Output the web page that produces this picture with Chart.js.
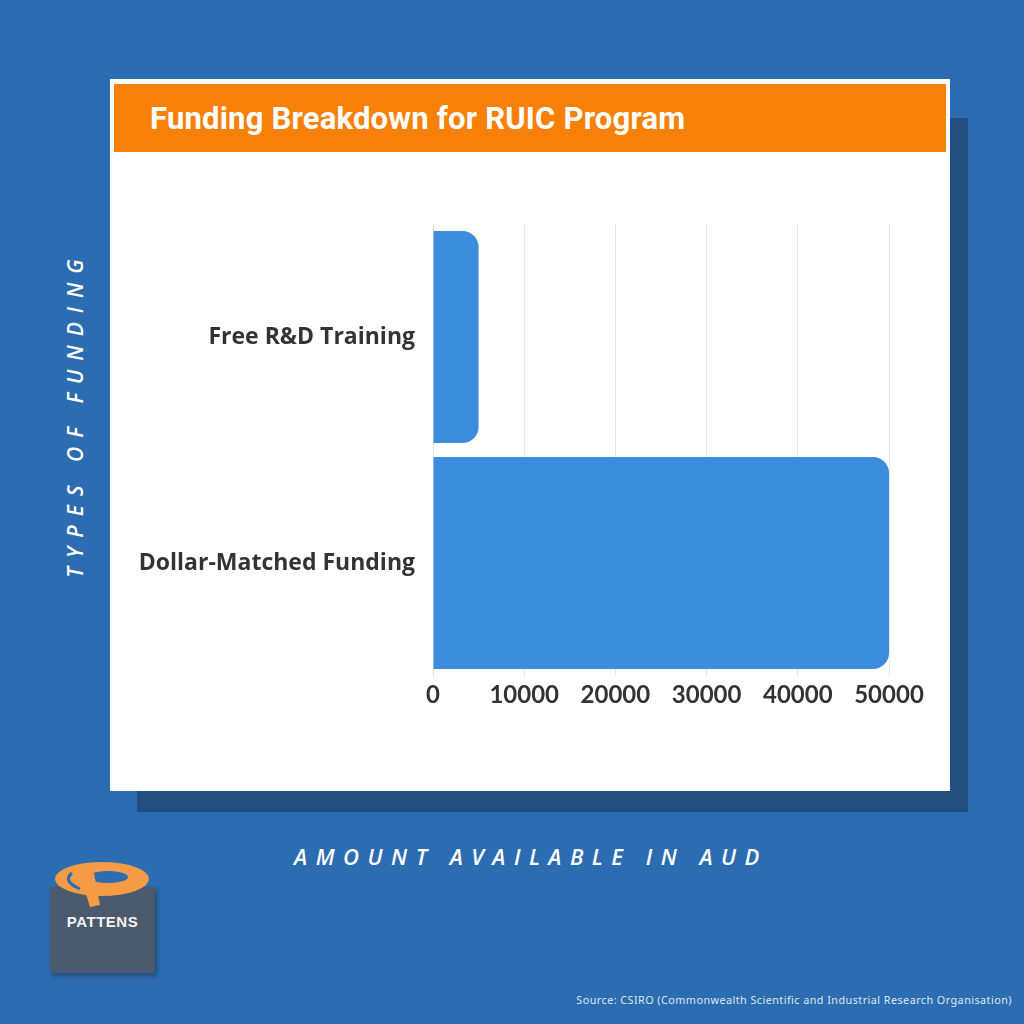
<!DOCTYPE html>
<html>
<head>
<meta charset="utf-8">
<script src="https://cdn.jsdelivr.net/npm/chart.js@4"></script>
<style>
  html, body { margin: 0; padding: 0; }
  body { width: 1024px; height: 1024px; background: #2c6cb0; position: relative; overflow: hidden; font-family: "Lato", sans-serif; }
  .shadow { position: absolute; left: 137px; top: 118px; width: 831px; height: 694px; background: #234f80; }
  .card { position: absolute; left: 110px; top: 79px; width: 840px; height: 712px; background: #fff; }
  .titlebar { position: absolute; left: 114px; top: 84px; width: 832px; height: 68px; background: #f78009; }
  .title { position: absolute; left: 150px; top: 100px; color: #fff; font-family: "Roboto", sans-serif; font-weight: bold; font-size: 31px; letter-spacing: 0.2px; white-space: nowrap; }
  .chartbox { position: absolute; left: 110px; top: 152px; width: 840px; height: 638px; }
  .ytitle { position: absolute; left: 75px; top: 414px; transform: translate(-50%, -50%) rotate(-90deg); color: #fff; font-family: "Open Sans", sans-serif; font-style: italic; font-weight: 600; font-size: 21px; letter-spacing: 9px; white-space: nowrap; }
  .xtitle { position: absolute; left: 531px; top: 856px; transform: translate(-50%, -50%); color: #fff; font-family: "Open Sans", sans-serif; font-style: italic; font-weight: 600; font-size: 22px; letter-spacing: 8.5px; white-space: nowrap; }
  .source { position: absolute; right: 12px; top: 992px; color: #dfe7f2; font-family: "Noto Sans", sans-serif; font-size: 10.8px; letter-spacing: 0.45px; white-space: nowrap; }
  .logo { position: absolute; left: 50px; top: 855px; width: 110px; height: 125px; }
  .logobox { position: absolute; left: 0; top: 32px; width: 105px; height: 86px; background: #4b5a6d; box-shadow: 2px 3px 4px rgba(0,0,0,0.3); }
  .logotext { position: absolute; left: 0; top: 58px; width: 105px; text-align: center; color: #f4f4f4; font-family: "Liberation Sans", sans-serif; font-weight: bold; font-size: 15px; letter-spacing: 0.5px; }
  .logo svg { position: absolute; left: 0; top: 0; }
</style>
</head>
<body>
<div class="shadow"></div>
<div class="card"></div>
<div class="titlebar"></div>
<div class="title">Funding Breakdown for RUIC Program</div>
<div class="chartbox"><canvas id="chart" width="840" height="638"></canvas></div>
<div class="ytitle">TYPES OF FUNDING</div>
<div class="xtitle">AMOUNT AVAILABLE IN AUD</div>
<div class="logo">
  <div class="logobox"></div>
  <svg width="110" height="60" viewBox="0 0 110 60">
    <ellipse cx="52" cy="24" rx="47" ry="17" fill="#f59a45"/>
    <ellipse cx="58" cy="22" rx="20" ry="6" fill="#2c6cb0"/>
    <path d="M30 20 L44 18 L50 50 L40 52 Z" fill="#f59a45"/>
    <path d="M22 18 Q12 26 30 34" stroke="#2c6cb0" stroke-width="3" fill="none"/>
  </svg>
  <div class="logotext">PATTENS</div>
</div>
<div class="source">Source: CSIRO (Commonwealth Scientific and Industrial Research Organisation)</div>

<script>
const categories = ['Free R&D Training', 'Dollar-Matched Funding'];
const amounts = [5000, 50000];
const xTicks = [0, 10000, 20000, 30000, 40000, 50000];

const barColor = '#3d8ddf';
const textColor = '#333333';

new Chart(document.getElementById('chart'), {
    type: 'bar',
    data: {
        labels: categories,
        datasets: [{
            data: amounts,
            backgroundColor: barColor,
            borderRadius: 16,
            borderSkipped: 'start',
            categoryPercentage: 1,
            barPercentage: 0.938
        }]
    },
    options: {
        indexAxis: 'y',
        responsive: false,
        animation: false,
        layout: { padding: { top: 72, right: 61, bottom: 0, left: 0 } },
        plugins: {
            legend: { display: false },
            tooltip: { enabled: false }
        },
        scales: {
            x: {
                min: 0,
                max: 50000,
                afterBuildTicks: scale => { scale.ticks = xTicks.map(v => ({ value: v })); },
                afterFit: scale => { scale.height = 114; },
                grid: { color: '#e6e6e6', drawTicks: false, tickLength: 0 },
                border: { display: false },
                ticks: {
                    color: textColor,
                    padding: 5,
                    maxRotation: 0,
                    callback: v => String(v),
                    font: { family: 'Lato', weight: 'bold', size: 24 }
                }
            },
            y: {
                afterFit: scale => { scale.width = 323; },
                grid: { display: false, drawTicks: false, tickLength: 0 },
                border: { display: true, color: '#e0e0e0' },
                ticks: {
                    color: textColor,
                    padding: 18,
                    font: { family: 'Open Sans', weight: 'bold', size: 23 }
                }
            }
        }
    }
});
</script>
</body>
</html>
